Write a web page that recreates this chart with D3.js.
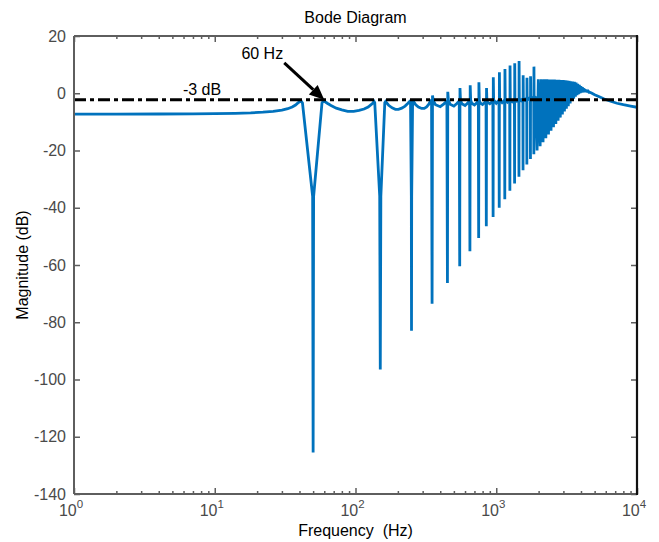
<!DOCTYPE html>
<html><head><meta charset="utf-8">
<script src="https://cdn.jsdelivr.net/npm/d3@7"></script>
<style>
body{margin:0;background:#fff}
svg{display:block}
text{font-family:"Liberation Sans",Arial,Helvetica,sans-serif}
</style>
</head><body>
<svg id="chart" width="659" height="542"></svg>
<script>
// ---------------- data ----------------
const chartTitle = "Bode Diagram";
const xLabel = "Frequency  (Hz)";
const yLabel = "Magnitude (dB)";
const xTickValues = [1, 10, 100, 1000, 10000];
const xTickExponents = ["0", "1", "2", "3", "4"];
const yTickValues = [20, 0, -20, -40, -60, -80, -100, -120, -140];
const refLineDb = -2.3;
const refLineLabel = "-3 dB";
const markerHz = 60;
const markerLabel = "60 Hz";

// magnitude response, [Hz, dB]
const passbandPts = [
  [1,-7.3],[2,-7.3],[4,-7.25],[7,-7.2],[10,-7.1],[14,-7.0],[18,-6.85],[22,-6.6],[26,-6.3],[30,-5.9],
  [33,-5.4],[35.5,-4.8],[37.5,-4.1],[39,-3.4],[40.3,-2.9],[41.2,-2.8],[42,-3.4],[49.6,-36],[50,-125.5],
  [50.4,-36],[57.8,-3.4],[59,-2.8],[60.5,-2.9],[63,-3.5],[67,-4.3],[73,-5.2],[80,-5.8],[88,-6.3],[97,-6.3],
  [106,-6.0],[115,-5.5],[123,-4.8],[129,-4.0],[133,-3.4],[135.5,-2.9],[137,-3.3],[148.6,-36],[150,-96.5],
  [151.4,-36],[161.5,-3.3],[163.5,-2.9],[166,-3.3],[172,-4.2],[182,-5.1],[192,-5.6],[202,-5.6],[213,-5.2],
  [225,-4.5],[234,-3.7],[240,-3.1],[244,-2.8],[246,-3.3],[249.3,-36],[250,-83],[250.7,-36],[254.5,-3.3],
  [256.5,-2.7],[260,-3.1],[268,-4.0],[280,-4.8],[295,-5.3],[308,-5.3],[320,-4.8],[331,-3.9],[338,-3.1],
  [343,-2.7],[347,-3.0]
];
const combPts = [
  [350,-73.5],[352.5,-0.8],[357,-2.6],[370,-4.0],[400,-4.7],[425,-3.7],[446,-2.7],
  [450,-66.3],[452.5,0.5],[457,-2.5],[470,-3.8],[500,-4.5],[525,-3.6],[546,-2.7],
  [550,-60.4],[552.5,1.8],[557,-2.5],[570,-3.7],[600,-4.3],[625,-3.5],[646,-2.6],
  [650,-55.2],[653,2.8],[658,-2.4],[670,-3.5],[700,-4.1],[725,-3.4],[746,-2.6],
  [750,-50.6],[753,3.8],[758,-2.4],[770,-3.4],[800,-3.9],[825,-3.3],[846,-2.5],
  [850,-46.5],[853,1.8],[858,-2.4],[870,-3.2],[900,-3.7],[925,-3.2],[946,-2.5],
  [950,-43.2],[953,5.6],[958,-2.3],[1000,-3.5],[1046,-2.4],
  [1050,-40.0],[1053,7.3],[1058,-2.3],[1100,-3.3],[1146,-2.3],
  [1150,-37.0],[1153,8.5],[1158,-2.2],[1200,-3.1],[1246,-2.2],
  [1250,-34.1],[1253,9.7],[1258,-2.1],[1300,-2.9],[1346,-2.1],
  [1350,-31.5],[1353,10.5],[1358,-2.0],[1400,-2.7],[1446,-2.0],
  [1450,-29.2],[1453,11.3],[1458,-1.9],[1500,-2.5],[1546,-1.8],
  [1550,-26.9],[1553,6.3],[1558,-1.7],[1600,-2.3],[1646,-1.6],
  [1650,-24.9],[1653,5.4],[1658,-1.5],[1700,-2.0],[1746,-1.4],
  [1750,-23.0],[1753,5.9],[1758,-1.3],[1800,-1.8],[1846,-1.2],
  [1850,-21.3],[1853,9.3],[1858,-1.1],[1900,-1.5]
];
const densePts = [
  [1950,-20.0],[1990,4.9],[2050,-18.5],[2090,4.9],[2150,-17.1],[2190,4.9],[2250,-15.7],[2290,4.9],
  [2350,-14.4],[2390,4.8],[2450,-13.1],[2490,4.8],[2550,-11.9],[2590,4.8],[2650,-10.7],[2690,4.7],
  [2750,-9.6],[2790,4.7],[2850,-8.5],[2890,4.6],[2950,-7.4],[2990,4.6],[3050,-6.4],[3090,4.5],
  [3150,-5.4],[3190,4.4],[3250,-4.5],[3290,4.3],[3350,-3.6],[3390,4.2],[3450,-2.7],[3490,4.1],
  [3550,-1.9],[3590,4.0],[3650,-1.2],[3690,3.7],[3750,-0.7],[3790,3.3],[3850,-0.3],[3890,2.9],
  [3950,0.0],[3990,2.5],[4050,0.2],[4090,2.1],[4150,0.3],[4190,1.7],[4250,0.4],[4290,1.3],
  [4350,0.4],[4390,1.0],[4450,0.4],[4490,0.7],[4550,0.35],[4600,0.4]
];
const rolloffPts = [
  [4750,0.1],[5000,-0.5],[5400,-1.2],[5850,-2.0],[6500,-2.8],[7200,-3.5],[8000,-4.0],[9000,-4.5],[10000,-4.9]
];

// ---------------- drawing ----------------
const svg = d3.select("#chart");
const m = {left: 74, right: 637, top: 36, bottom: 494};
const x = d3.scaleLog().domain([1, 10000]).range([m.left, m.right]);
const y = d3.scaleLinear().domain([-140, 20]).range([m.bottom, m.top]);

const axisGray = "#5e5e5e";
const labelGray = "#4a4a4a";
const blue = "#0072BD";

svg.append("rect").attr("width", 659).attr("height", 542).attr("fill", "#fff");

svg.append("defs").append("clipPath").attr("id", "plotclip")
  .append("rect").attr("x", m.left).attr("y", m.top)
  .attr("width", m.right - m.left).attr("height", m.bottom - m.top);

// curve
const allPts = [...passbandPts, ...combPts, ...densePts, ...rolloffPts];
const line = d3.line().x(d => x(d[0])).y(d => y(d[1]));
svg.append("path").datum(allPts)
  .attr("clip-path", "url(#plotclip)")
  .attr("d", line).attr("fill", "none")
  .attr("stroke", blue).attr("stroke-width", 2.8)
  .attr("stroke-linejoin", "miter").attr("stroke-miterlimit", 2);

// reference line
svg.append("line")
  .attr("x1", x(1)).attr("x2", x(10000))
  .attr("y1", y(refLineDb)).attr("y2", y(refLineDb))
  .attr("stroke", "#000").attr("stroke-width", 3)
  .attr("stroke-dasharray", "12,4,4,4");

// axes ticks
const minor = x.ticks().filter(v => !xTickValues.includes(v));
function styleAxis(g) {
  g.select(".domain").remove();
  g.selectAll(".tick line").attr("stroke", axisGray).attr("stroke-width", 1.5);
}
svg.append("g").attr("transform", `translate(0,${m.bottom})`)
  .call(d3.axisBottom(x).tickValues(xTickValues).tickSizeInner(-6).tickSizeOuter(0).tickFormat(""))
  .call(styleAxis);
svg.append("g").attr("transform", `translate(0,${m.bottom})`)
  .call(d3.axisBottom(x).tickValues(minor).tickSizeInner(-3).tickSizeOuter(0).tickFormat(""))
  .call(styleAxis);
svg.append("g").attr("transform", `translate(0,${m.top})`)
  .call(d3.axisTop(x).tickValues(xTickValues).tickSizeInner(-6).tickSizeOuter(0).tickFormat(""))
  .call(styleAxis);
svg.append("g").attr("transform", `translate(0,${m.top})`)
  .call(d3.axisTop(x).tickValues(minor).tickSizeInner(-3).tickSizeOuter(0).tickFormat(""))
  .call(styleAxis);

const gy = svg.append("g").attr("transform", `translate(${m.left},0)`)
  .call(d3.axisLeft(y).tickValues(yTickValues).tickSizeInner(-6).tickSizeOuter(0)
    .tickPadding(8).tickFormat(d => String(d)))
  .call(styleAxis);
gy.selectAll(".tick text").attr("font-size", 16).attr("fill", labelGray)
  .attr("font-family", "Liberation Sans, Arial, sans-serif");
svg.append("g").attr("transform", `translate(${m.right},0)`)
  .call(d3.axisRight(y).tickValues(yTickValues).tickSizeInner(-6).tickSizeOuter(0).tickFormat(""))
  .call(styleAxis);

// frame
svg.append("line").attr("x1", m.left).attr("x2", m.right).attr("y1", m.bottom).attr("y2", m.bottom)
  .attr("stroke", axisGray).attr("stroke-width", 2);
svg.append("line").attr("x1", m.left).attr("x2", m.right).attr("y1", m.top).attr("y2", m.top)
  .attr("stroke", axisGray).attr("stroke-width", 2);
svg.append("line").attr("x1", m.left).attr("x2", m.left).attr("y1", m.top).attr("y2", m.bottom)
  .attr("stroke", axisGray).attr("stroke-width", 2);
svg.append("line").attr("x1", m.right).attr("x2", m.right).attr("y1", m.top - 1).attr("y2", m.bottom + 1)
  .attr("stroke", "#111").attr("stroke-width", 2.2);

// x tick labels 10^n
const xl = svg.append("g");
xTickValues.forEach((v, i) => {
  const t = xl.append("text").attr("x", x(v) - 3).attr("y", m.bottom + 22)
    .attr("text-anchor", "middle").attr("fill", labelGray).attr("font-size", 16);
  t.append("tspan").text("10");
  t.append("tspan").attr("dy", -8).attr("font-size", 11.5).text(xTickExponents[i]);
});

// titles
svg.append("text").attr("x", (m.left + m.right) / 2).attr("y", 23)
  .attr("text-anchor", "middle").attr("font-size", 16).attr("fill", "#000").text(chartTitle);
svg.append("text").attr("x", (m.left + m.right) / 2).attr("y", 536)
  .attr("text-anchor", "middle").attr("font-size", 16).attr("fill", "#000")
  .attr("xml:space", "preserve").style("white-space", "pre").text(xLabel);
svg.append("text").attr("transform", `translate(28,${(m.top + m.bottom) / 2}) rotate(-90)`)
  .attr("text-anchor", "middle").attr("font-size", 16).attr("fill", "#000").text(yLabel);

// annotations
svg.append("text").attr("x", 202).attr("y", 95).attr("text-anchor", "middle")
  .attr("font-size", 16).attr("fill", "#000").text(refLineLabel);

const tipX = x(markerHz), tipY = y(refLineDb);
const tailX = tipX - 40, tailY = tipY - 37;
const ang = Math.atan2(tipY - tailY, tipX - tailX);
const headLen = 15, headW = 6.5;
const bx = tipX - headLen * Math.cos(ang), by = tipY - headLen * Math.sin(ang);
svg.append("line").attr("x1", tailX).attr("y1", tailY).attr("x2", bx).attr("y2", by)
  .attr("stroke", "#000").attr("stroke-width", 3);
svg.append("path").attr("fill", "#000").attr("d",
  `M${tipX},${tipY} L${bx + headW * Math.sin(ang)},${by - headW * Math.cos(ang)} ` +
  `L${bx - headW * Math.sin(ang)},${by + headW * Math.cos(ang)} Z`);
svg.append("text").attr("x", tailX - 22).attr("y", tailY - 4).attr("text-anchor", "middle")
  .attr("font-size", 16).attr("fill", "#000").text(markerLabel);
</script>
</body></html>
